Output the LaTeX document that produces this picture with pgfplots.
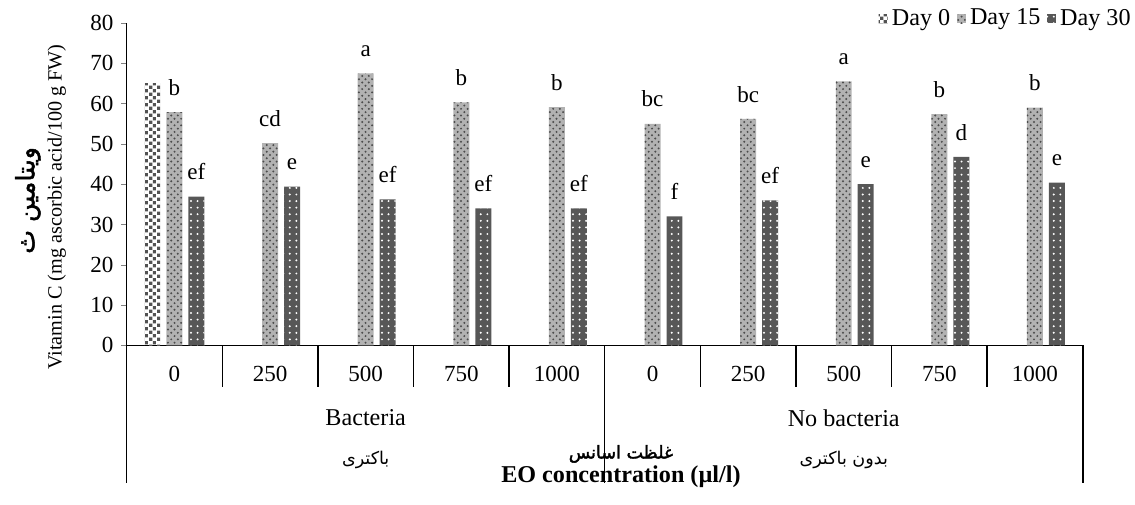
\documentclass[border=0pt]{standalone}
\usepackage{fontspec}
\setmainfont{Liberation Serif}
\newfontfamily\arabicfont[Script=Arabic]{DejaVu Sans}
\newfontfamily\arabicbold[Script=Arabic,FakeBold=2]{DejaVu Sans}
\TeXXeTstate=1
\usepackage{pgfplots}
\pgfplotsset{compat=1.18}
\usetikzlibrary{patterns,patterns.meta}

\tikzdeclarepattern{
  name=dayzero, type=uncolored,
  bottom left={(0pt,0pt)}, top right={(3.4pt,3.4pt)}, tile size={(3.4pt,3.4pt)},
  code={
    \fill (0.1pt,0.1pt) rectangle (1.6pt,1.6pt);
    \fill (1.8pt,1.8pt) rectangle (3.3pt,3.3pt);
  }
}

\begin{document}
\begin{tikzpicture}
\begin{axis}[
  scale only axis, width=435.5pt, height=146.8pt,
  xmin=-0.5, xmax=9.5, ymin=0, ymax=80,
  axis x line=bottom, axis y line=left, axis line style={-, line width=0.7pt},
  ytick={0,10,...,80}, tick align=outside, major tick length=2.5pt,
  xtick={0,...,9}, xticklabels={0,250,500,750,1000,0,250,500,750,1000},
  x tick style={draw=none},
  xticklabel style={yshift=-3.5pt},
  /pgf/number format/assume math mode=true,
  tick label style={font=\fontsize{10.5}{12}\selectfont},
  clip=false,
  point meta=explicit symbolic,
  nodes near coords style={font=\fontsize{10.5}{12}\selectfont, text=black, yshift=4pt},
  legend columns=-1,
  legend style={draw=none, fill=none, at={(rel axis cs:1,1)}, anchor=east, xshift=24pt, yshift=2pt,
    font=\fontsize{11}{13}\selectfont, inner sep=0pt,
    /tikz/every even column/.append style={column sep=1pt}},
  legend image code/.code={\draw[#1, draw=none] (0pt,-2pt) rectangle (4pt,2pt);},
]
\addplot[ybar, bar width=0.167, bar shift=-0.23, draw=none, fill=white,
  postaction={pattern=dayzero, pattern color=black!68}]
  coordinates {(0,65.0)};
\addlegendentry{Day 0}
\addplot[ybar, bar width=0.167, bar shift=0, draw=none, fill=black!30,
  postaction={pattern=crosshatch dots, pattern color=black!70}, nodes near coords]
  coordinates {(0,57.9)[b] (1,50.2)[cd] (2,67.5)[a] (3,60.3)[b] (4,59.1)[b]
               (5,55.0)[bc] (6,56.2)[bc] (7,65.5)[a] (8,57.4)[b] (9,59.0)[b]};
\addlegendentry{Day 15}
\addplot[ybar, bar width=0.167, bar shift=0.23, draw=none, fill=black!66,
  postaction={pattern=dots, pattern color=white}, nodes near coords,
  every node near coord/.append style={xshift=10pt}]
  coordinates {(0,36.9)[ef] (1,39.4)[e] (2,36.2)[ef] (3,34.0)[ef] (4,34.0)[ef]
               (5,32.0)[f] (6,36.0)[ef] (7,40.0)[e] (8,46.8)[d] (9,40.4)[e]};
\addlegendentry{Day 30}
% category separators below the axis
\pgfplotsinvokeforeach{0.5,1.5,2.5,3.5,5.5,6.5,7.5,8.5}{
  \draw[line width=0.7pt] (axis cs:#1,0) -- ([yshift=-19pt]axis cs:#1,0);
}
\pgfplotsinvokeforeach{-0.5,4.5,9.5}{
  \draw[line width=0.7pt] (axis cs:#1,0) -- ([yshift=-62.5pt]axis cs:#1,0);
}
\node[font=\fontsize{11}{13}\selectfont] at ([yshift=-33pt]axis cs:2,0) {Bacteria};
\node[font=\fontsize{11}{13}\selectfont] at ([yshift=-33pt]axis cs:7,0) {No bacteria};
\node[font=\arabicfont\footnotesize] at ([yshift=-52.3pt]axis cs:2,0) {\beginR باکتری\endR};
\node[font=\arabicfont\footnotesize] at ([yshift=-52.3pt]axis cs:7,0) {\beginR بدون باکتری\endR};
\node[font=\arabicbold\footnotesize, inner sep=0pt] at ([yshift=-49.5pt]axis cs:4.67,0) {\beginR غلظت اسانس\endR};
\node[font=\fontsize{11}{13}\selectfont\bfseries] at ([yshift=-60pt]axis cs:4.67,0) {EO concentration (µl/l)};
\node[rotate=90, font=\fontsize{9.2}{11}\selectfont] at ([xshift=-31.8pt,yshift=63pt]rel axis cs:0,0) {Vitamin C (mg ascorbic acid/100 g FW)};
\node[rotate=90, font=\arabicbold\fontsize{11.5}{13}\selectfont] at ([xshift=-45pt,yshift=66pt]rel axis cs:0,0) {\beginR ویتامین ث\endR};
% page frame matching the reference margins
\path ([xshift=-57.7pt,yshift=-72.3pt]rel axis cs:0,0) rectangle ([xshift=22.7pt,yshift=10.5pt]rel axis cs:1,1);
\end{axis}
\end{tikzpicture}
\end{document}
